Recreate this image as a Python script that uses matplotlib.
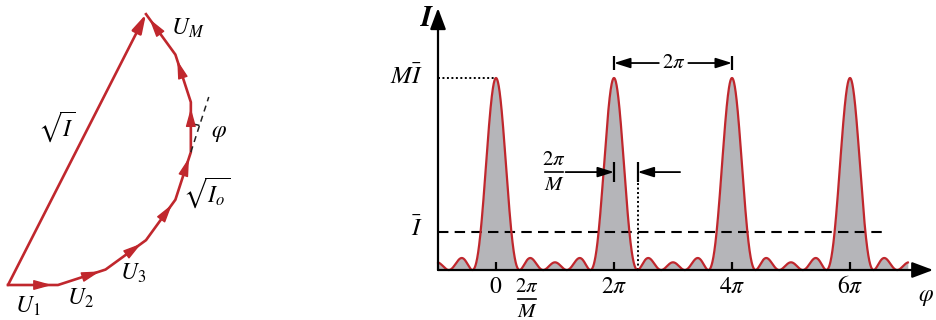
import numpy as np
import matplotlib.pyplot as plt
from matplotlib.patches import Arc

plt.rcParams['mathtext.fontset'] = 'stix'
plt.rcParams['font.family'] = 'STIXGeneral'

red = '#c0272d'
grey = '#b5b5b9'

# phasor chain (left)
n_phasors = 8
step_deg = 18
phasor_len = 50
start = np.array([8.0, 35.0])
phasor_labels = ['$U_1$', '$U_2$', '$U_3$']
phasor_label_pos = [(28, 14), (80, 22), (133, 47)]

# interference pattern (right), phase in units of pi
M = 5
Ibar = 1.0
peaks = [0, 2, 4, 6]
peak_labels = ['$0$', '$2\\pi$', '$4\\pi$', '$6\\pi$']

fig = plt.figure(figsize=(9.36, 3.2), dpi=100)

# ---- left: phasor diagram, 1 unit = 1 px
axL = fig.add_axes([0, 0, 370 / 936, 1])
axL.set_xlim(0, 370)
axL.set_ylim(0, 320)
axL.axis('off')

ang = np.deg2rad(step_deg * np.arange(n_phasors))
steps = np.c_[np.cos(ang), np.sin(ang)] * phasor_len
pts = np.vstack([[0, 0], np.cumsum(steps, axis=0)]) + start
axL.plot(pts[:, 0], pts[:, 1], color=red, lw=1.9)
for a, b in zip(pts[:-1], pts[1:]):
    axL.annotate('', xy=a + 0.88 * (b - a), xytext=a + 0.5 * (b - a),
                 arrowprops=dict(arrowstyle='-|>,head_length=0.8,head_width=0.22',
                                 color=red, lw=1.0, shrinkA=0, shrinkB=0,
                                 mutation_scale=14))
axL.annotate('', xy=pts[-1], xytext=pts[0],
             arrowprops=dict(arrowstyle='-|>,head_length=0.8,head_width=0.22',
                             color=red, lw=1.9, shrinkA=0, shrinkB=0,
                             mutation_scale=14))

# phase angle marker at the corner after the fifth phasor
corner = pts[5]
d = np.array([np.cos(ang[4]), np.sin(ang[4])])
ext = corner + 58 * d
axL.plot([corner[0], ext[0]], [corner[1], ext[1]], color='#222222', lw=1.1,
         ls=(0, (4, 3)))
axL.add_patch(Arc(corner, 56, 56, theta1=step_deg * 4, theta2=step_deg * 5,
                  color='#222222', lw=1.1))

for t, (x, y) in zip(phasor_labels, phasor_label_pos):
    axL.text(x, y, t, fontsize=17, ha='center', va='center')
axL.text(219, 187, '$\\varphi$', fontsize=17, ha='center', va='center')
axL.text(207, 127, '$\\sqrt{I_o}$', fontsize=17, ha='center', va='center')
axL.text(188, 292, '$U_M$', fontsize=17, ha='center', va='center')
axL.text(57, 193, '$\\sqrt{I}$', fontsize=17, ha='center', va='center')

# ---- right: intensity pattern
px_x, px_y = 59.0, 38.4
axR = fig.add_axes([370 / 936, 0, 566 / 936, 1])
axR.set_xlim((370 - 496) / px_x, (936 - 496) / px_x)
axR.set_ylim(-50 / px_y, 270 / px_y)
axR.axis('off')


def frac(ax, x, y, w=0.15):
    # stacked 2pi / M label, centred on its fraction bar
    ax.text(x, y + 0.3, '$2\\pi$', fontsize=15, ha='center', va='center')
    ax.text(x, y - 0.34, '$M$', fontsize=15, ha='center', va='center')
    ax.plot([x - w, x + w], [y, y], color='black', lw=1.2)


phi = np.linspace(-0.98, 6.98, 4000)
num = np.sin(M * np.pi * phi / 2) ** 2
den = np.sin(np.pi * phi / 2) ** 2
I = np.where(den < 1e-12, M ** 2, num / np.maximum(den, 1e-12)) * Ibar / M

axR.fill_between(phi, I, color=grey, lw=0, zorder=1)
axR.plot(phi, I, color=red, lw=1.6, zorder=3)

x0 = (438 - 496) / px_x
axR.annotate('', xy=(7.41, 0), xytext=(x0, 0),
             arrowprops=dict(arrowstyle='-|>,head_length=0.8,head_width=0.3',
                             color='black', lw=1.6, shrinkA=0, shrinkB=0,
                             mutation_scale=16), zorder=4)
axR.annotate('', xy=(x0, 6.82), xytext=(x0, 0),
             arrowprops=dict(arrowstyle='-|>,head_length=0.8,head_width=0.3',
                             color='black', lw=1.6, shrinkA=0, shrinkB=0,
                             mutation_scale=16), zorder=4)

axR.vlines(peaks, 0, 0.21, color='black', lw=1.6, zorder=4)
for p, t in zip(peaks, peak_labels):
    axR.text(p, -0.45, t, fontsize=17, ha='center', va='center')
frac(axR, 0.53, -0.75)
axR.text(7.29, -0.7, '$\\varphi$', fontsize=17, ha='center', va='center')

axR.text(-1.17, 6.55, 'I', fontsize=21, fontstyle='italic', fontweight='bold',
         ha='center', va='center')
axR.text(-1.24, M * Ibar, '$M\\bar{I}$', fontsize=18, ha='right', va='center')
axR.text(-1.24, Ibar + 0.05, '$\\bar{I}$', fontsize=18, ha='right', va='center')

axR.hlines(M * Ibar, x0, 0, color='black', lw=1.4, linestyles=(0, (1, 1.3)), zorder=2)
axR.hlines(Ibar, x0, 6.63, color='black', lw=1.5, linestyles=(0, (5, 3)), zorder=2)

head = dict(arrowstyle='-|>,head_length=0.7,head_width=0.22', color='black',
            lw=1.3, shrinkA=0, shrinkB=0, mutation_scale=14)

# period marker
yt = 5.39
axR.vlines([2, 4], yt - 0.19, yt + 0.19, color='black', lw=1.6)
axR.annotate('', xy=(2, yt), xytext=(2.76, yt), arrowprops=head)
axR.annotate('', xy=(4, yt), xytext=(3.26, yt), arrowprops=head)
axR.text(3.01, yt, '$2\\pi$', fontsize=15, ha='center', va='center')

# half-width marker
yw = 2.55
axR.vlines([2, 2 + 2 / M], yw - 0.26, yw + 0.26, color='black', lw=1.6)
axR.annotate('', xy=(2, yw), xytext=(1.18, yw), arrowprops=head)
axR.annotate('', xy=(2 + 2 / M, yw), xytext=(3.12, yw), arrowprops=head)
axR.vlines(2 + 2 / M, 0, yw - 0.26, color='black', lw=1.4,
           linestyles=(0, (1, 1.3)), zorder=2)
frac(axR, 0.98, yw)

fig.savefig('out.png', dpi=100)
